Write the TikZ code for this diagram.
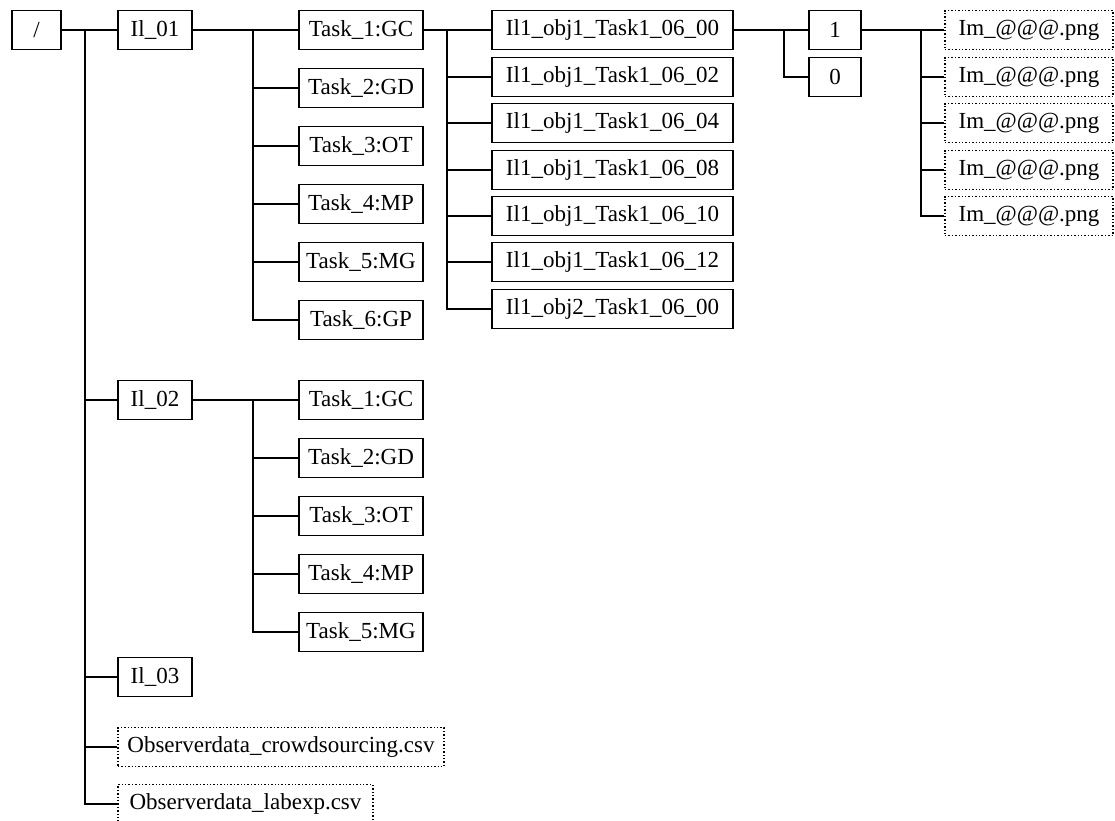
\documentclass[tikz,border=0pt]{standalone}
\usepackage{fontspec}
\setmainfont{Liberation Serif}
\begin{document}
\begin{tikzpicture}[x=1pt,y=-1pt,
  box/.style={draw, line width=1.4pt, minimum height=39pt, inner sep=0pt, font=\fontsize{23}{27}\selectfont},
  filebox/.style={box, dotted},
  link/.style={line width=1.4pt}]
\useasboundingbox (0,0) rectangle (1115,820);
% level 0
\node[box, minimum width=49pt] (root) at (36.5,30) {/};
% level 1
\node[box, minimum width=74pt] (il01) at (155,30) {Il\_01};
\node[box, minimum width=74pt] (il02) at (155,400) {Il\_02};
\node[box, minimum width=74pt] (il03) at (155,677) {Il\_03};
\node[filebox, minimum width=326pt] (obs1) at (281,747) {Observerdata\_crowdsourcing.csv};
\node[filebox, minimum width=255pt] (obs2) at (245.5,804) {Observerdata\_labexp.csv};
% tasks of Il_01
\node[box, minimum width=124pt] (a1) at (361,30) {Task\_1:GC};
\node[box, minimum width=124pt] (a2) at (361,88) {Task\_2:GD};
\node[box, minimum width=124pt] (a3) at (361,146) {Task\_3:OT};
\node[box, minimum width=124pt] (a4) at (361,204) {Task\_4:MP};
\node[box, minimum width=124pt] (a5) at (361,262) {Task\_5:MG};
\node[box, minimum width=124pt] (a6) at (361,320) {Task\_6:GP};
% tasks of Il_02
\node[box, minimum width=124pt] (b1) at (361,400) {Task\_1:GC};
\node[box, minimum width=124pt] (b2) at (361,458) {Task\_2:GD};
\node[box, minimum width=124pt] (b3) at (361,516) {Task\_3:OT};
\node[box, minimum width=124pt] (b4) at (361,574) {Task\_4:MP};
\node[box, minimum width=124pt] (b5) at (361,632) {Task\_5:MG};
% sessions
\node[box, minimum width=241pt] (s1) at (612.5,30) {Il1\_obj1\_Task1\_06\_00};
\node[box, minimum width=241pt] (s2) at (612.5,77) {Il1\_obj1\_Task1\_06\_02};
\node[box, minimum width=241pt] (s3) at (612.5,123) {Il1\_obj1\_Task1\_06\_04};
\node[box, minimum width=241pt] (s4) at (612.5,170) {Il1\_obj1\_Task1\_06\_08};
\node[box, minimum width=241pt] (s5) at (612.5,216) {Il1\_obj1\_Task1\_06\_10};
\node[box, minimum width=241pt] (s6) at (612.5,262) {Il1\_obj1\_Task1\_06\_12};
\node[box, minimum width=241pt] (s7) at (612.5,309) {Il1\_obj2\_Task1\_06\_00};
% 1 / 0
\node[box, minimum width=52pt] (one) at (835,30) {1};
\node[box, minimum width=52pt] (zero) at (835,77) {0};
% images
\node[filebox, minimum width=168pt] (m1) at (1029,30) {Im\_@@@.png};
\node[filebox, minimum width=168pt] (m2) at (1029,77) {Im\_@@@.png};
\node[filebox, minimum width=168pt] (m3) at (1029,123) {Im\_@@@.png};
\node[filebox, minimum width=168pt] (m4) at (1029,170) {Im\_@@@.png};
\node[filebox, minimum width=168pt] (m5) at (1029,216) {Im\_@@@.png};
% junction coordinates
\coordinate (j0) at (85,30);
\coordinate (j1) at (253,30);
\coordinate (j2) at (253,400);
\coordinate (j3) at (447,30);
\coordinate (j4) at (784,30);
\coordinate (j5) at (921,30);
% connectors
\draw[link] (root.east) -- (il01.west);
\foreach \n in {il02,il03,obs1,obs2} \draw[link] (j0) |- (\n.west);
\draw[link] (il01.east) -- (a1.west);
\foreach \n in {a2,a3,a4,a5,a6} \draw[link] (j1) |- (\n.west);
\draw[link] (il02.east) -- (b1.west);
\foreach \n in {b2,b3,b4,b5} \draw[link] (j2) |- (\n.west);
\draw[link] (a1.east) -- (s1.west);
\foreach \n in {s2,s3,s4,s5,s6,s7} \draw[link] (j3) |- (\n.west);
\draw[link] (s1.east) -- (one.west);
\draw[link] (j4) |- (zero.west);
\draw[link] (one.east) -- (m1.west);
\foreach \n in {m2,m3,m4,m5} \draw[link] (j5) |- (\n.west);
\end{tikzpicture}
\end{document}
